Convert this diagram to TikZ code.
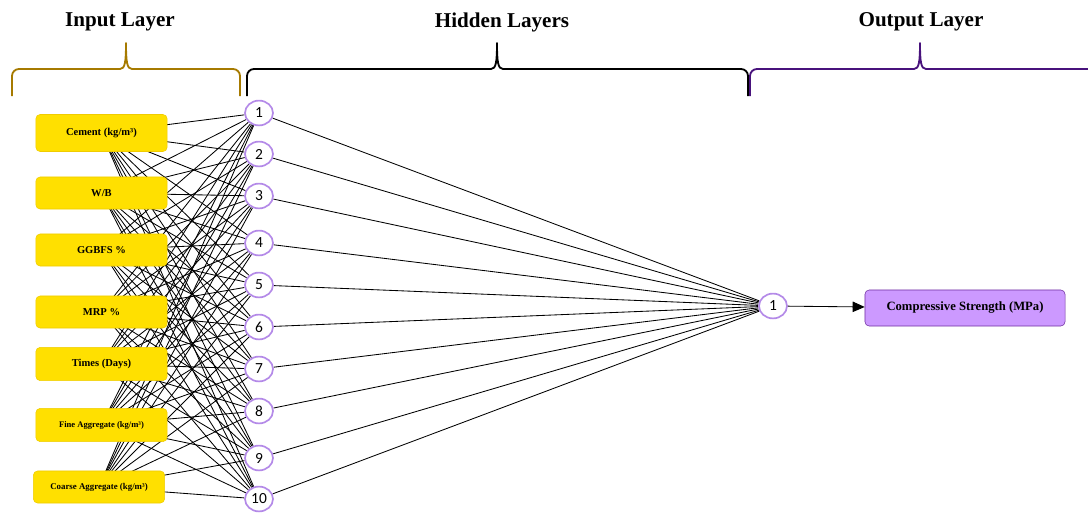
\documentclass[tikz,border=0pt]{standalone}
\usepackage{fontspec}
\setmainfont{Liberation Serif}
\newfontfamily\numfont{Carlito}
\usetikzlibrary{positioning, arrows.meta, shapes.geometric, backgrounds}
\definecolor{Gold}{HTML}{FFE000}
\definecolor{GoldLine}{HTML}{F0CC00}
\definecolor{Lilac}{HTML}{CC99FF}
\definecolor{Plum}{HTML}{7030A0}
\definecolor{Ring}{HTML}{B48AE8}
\definecolor{Bronze}{HTML}{A67A00}
\definecolor{Indigo}{HTML}{48127C}
\tikzset{
    inbox/.style={rectangle, rounded corners=3pt, fill=Gold, draw=GoldLine, minimum width=3.28cm, minimum height=0.8cm, align=center, font=\bfseries\fontsize{7.5}{9}\selectfont},
    hidnode/.style={ellipse, draw=Ring, fill=white, line width=1.2pt, minimum width=0.7cm, minimum height=0.62cm, inner sep=0pt, font=\numfont\fontsize{11}{12}\selectfont},
    outbox/.style={rectangle, rounded corners=3pt, fill=Lilac, draw=Plum, minimum width=5cm, minimum height=0.9cm, align=center, font=\bfseries\fontsize{9}{11}\selectfont},
    link/.style={black, line width=0.6pt},
    arrow/.style={-{Triangle[length=3mm, width=2.6mm]}, line width=0.6pt, color=black},
    brace/.style={line width=1.3pt, line join=round},
    title/.style={font=\bfseries\fontsize{15}{18}\selectfont},
}

\begin{document}
\begin{tikzpicture}[x=0.025cm, y=-0.025cm]
    \useasboundingbox (0,0) rectangle (1088,513);

    % layer titles and braces
    \node[title] (tin) at (120,22) {Input Layer};
    \node[title] (thid) at (502,22) {Hidden Layers};
    \node[title] (tout) at (921,22) {Output Layer};
    \draw[brace, Bronze] (12,96) -- (12,76) to[out=90,in=180] (19,69) -- (120,69)
        .. controls (125,69) and (126,62) .. (126,43) .. controls (126,62) and (127,69) .. (132,69)
        -- (233,69) to[out=0,in=90] (240,76) -- (240,96);
    \draw[brace, black] (247,96) -- (247,76) to[out=90,in=180] (254,69) -- (491,69)
        .. controls (496,69) and (497,62) .. (497,43) .. controls (497,62) and (498,69) .. (503,69)
        -- (741,69) to[out=0,in=90] (748,76) -- (748,96);
    \draw[brace, Indigo] (750,96) -- (750,76) to[out=90,in=180] (757,69) -- (914,69)
        .. controls (919,69) and (920,62) .. (920,43) .. controls (920,62) and (921,69) .. (926,69)
        -- (1088,69);

    % input features
    \node[inbox, minimum height=0.925cm] (in1) at (101.5,133) {Cement (kg/m³)};
    \node[inbox] (in2) at (101.5,193) {W/B};
    \node[inbox] (in3) at (101.5,250) {GGBFS \%};
    \node[inbox] (in4) at (101.5,312) {MRP \%};
    \node[inbox, minimum height=0.83cm] (in5) at (101.5,364) {Times (Days)};
    \node[inbox, minimum height=0.83cm, font=\bfseries\fontsize{6.1}{7}\selectfont] (in6) at (101.5,425) {Fine Aggregate (kg/m³)};
    \node[inbox, font=\bfseries\fontsize{6.3}{7}\selectfont] (in7) at (99,487) {Coarse Aggregate (kg/m³)};

    % hidden neurons
    \foreach \y [count=\j] in {113,154,196,243,285,327,369,411,458,499}
        \node[hidnode] (h\j) at (259,\y) {\j};

    % output
    \node[hidnode] (o1) at (773,306) {1};
    \node[outbox] (res) at (965,308) {Compressive Strength (MPa)};

    \begin{scope}[on background layer]
        \foreach \i in {1,...,7}
            \foreach \j in {1,...,10}
                \draw[link] (in\i.center) -- (h\j);
        \foreach \j in {1,...,10}
            \draw[link] (h\j) -- (o1);
    \end{scope}
    \draw[arrow] (o1) -- (res);
\end{tikzpicture}
\end{document}
